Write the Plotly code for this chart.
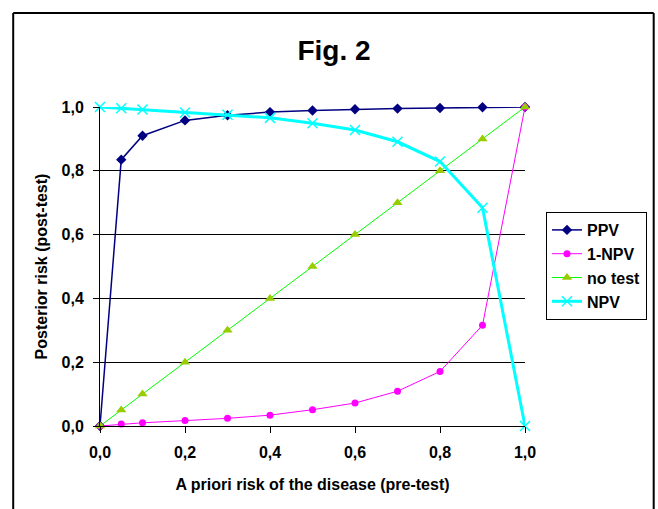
import plotly.graph_objects as go

x_prior = [0.0, 0.05, 0.1, 0.2, 0.3, 0.4, 0.5, 0.6, 0.7, 0.8, 0.9, 1.0]
ppv = [0.0, 0.835, 0.91, 0.958, 0.974, 0.984, 0.989, 0.993, 0.995, 0.997, 0.999, 1.0]
one_minus_npv = [0.0, 0.006, 0.01, 0.017, 0.024, 0.034, 0.051, 0.072, 0.109, 0.171, 0.316, 1.0]
no_test = [0.0, 0.05, 0.1, 0.2, 0.3, 0.4, 0.5, 0.6, 0.7, 0.8, 0.9, 1.0]
npv = [1.0, 0.996, 0.992, 0.983, 0.976, 0.966, 0.949, 0.928, 0.891, 0.829, 0.684, 0.0]

tick_vals = [0.0, 0.2, 0.4, 0.6, 0.8, 1.0]

FONT = "Liberation Sans, Arial, sans-serif"

fig = go.Figure()
fig.add_trace(go.Scatter(x=x_prior, y=ppv, name="PPV", mode="lines+markers",
                         line=dict(color="#000080", width=1.5),
                         marker=dict(symbol="diamond", size=8, color="#000080"),
                         cliponaxis=False))
fig.add_trace(go.Scatter(x=x_prior, y=one_minus_npv, name="1-NPV", mode="lines+markers",
                         line=dict(color="#FF00FF", width=1),
                         marker=dict(symbol="circle", size=7, color="#FF00FF"),
                         cliponaxis=False))
fig.add_trace(go.Scatter(x=x_prior, y=no_test, name="no test", mode="lines+markers",
                         line=dict(color="#00FF00", width=1),
                         marker=dict(symbol="triangle-up", size=9, color="#99CC00"),
                         cliponaxis=False))
fig.add_trace(go.Scatter(x=x_prior, y=npv, name="NPV", mode="lines+markers",
                         line=dict(color="#00FFFF", width=3),
                         marker=dict(symbol="x-thin-open", size=10,
                                     line=dict(color="#00FFFF", width=1.5)),
                         cliponaxis=False))

L, R, T, B = 100, 132, 107, 83
W, H = 658, 509
pw, ph = W - L - R, H - T - B

def px_x(p):
    return (p - L) / pw

def px_y(p):
    return (H - B - p) / ph

border = dict(color="black", width=2)
fig.add_shape(type="line", xref="paper", yref="paper", x0=px_x(13), x1=px_x(13),
              y0=px_y(13), y1=px_y(530), line=border)
fig.add_shape(type="line", xref="paper", yref="paper", x0=px_x(655), x1=px_x(655),
              y0=px_y(13), y1=px_y(530), line=border)
fig.add_shape(type="line", xref="paper", yref="paper", x0=px_x(13), x1=px_x(655),
              y0=px_y(13), y1=px_y(13), line=border)

fig.update_layout(
    width=W, height=H,
    margin=dict(l=L, r=R, t=T, b=B, pad=0),
    paper_bgcolor="white", plot_bgcolor="white",
    separators=", ",
    font=dict(family=FONT, size=16, color="black", weight="bold"),
    title=dict(text="Fig. 2", x=334 / W, xanchor="center", y=1 - 50 / H, yanchor="middle",
               font=dict(family=FONT, size=28, color="black", weight="bold")),
    xaxis=dict(range=[0, 1], tickvals=tick_vals, tickformat=".1f",
               showgrid=False, zeroline=False, showline=True, linecolor="black", linewidth=1,
               ticks="outside", ticklen=6, tickcolor="black", ticklabelstandoff=6,
               tickfont=dict(family=FONT, size=16, weight="bold"),
               title=dict(text="A priori risk of the disease (pre-test)", standoff=18,
                          font=dict(family=FONT, size=16, weight="bold"))),
    yaxis=dict(range=[0, 1], tickvals=tick_vals, tickformat=".1f",
               showgrid=True, gridcolor="black", gridwidth=1, zeroline=False,
               showline=True, linecolor="black", linewidth=1,
               ticks="outside", ticklen=6, tickcolor="black", ticklabelstandoff=6,
               tickfont=dict(family=FONT, size=16, weight="bold"),
               title=dict(text="Posterior risk (post-test)", standoff=9,
                          font=dict(family=FONT, size=16, weight="bold"))),
    legend=dict(x=px_x(546), y=px_y(212), xanchor="left", yanchor="top",
                bordercolor="black", borderwidth=1, bgcolor="white",
                font=dict(family=FONT, size=16, weight="bold"),
                itemwidth=30, tracegroupgap=0),
    showlegend=True,
)

fig.write_html("out.html")
